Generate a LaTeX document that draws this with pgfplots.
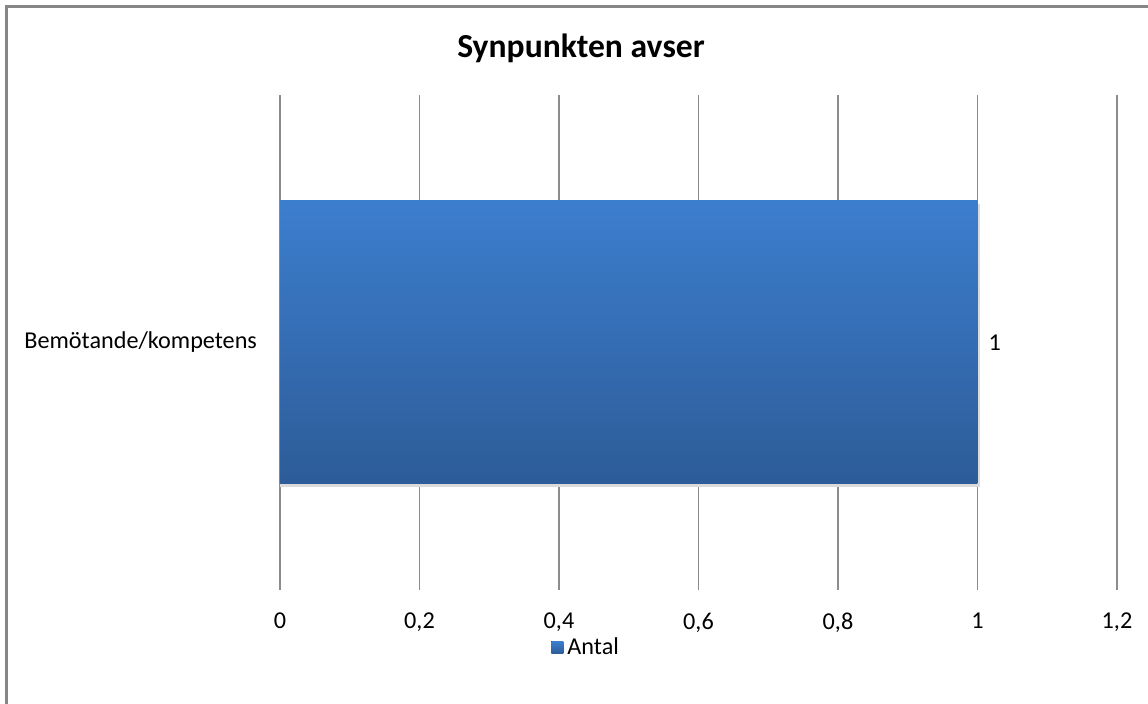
\documentclass[border=0pt]{standalone}
\usepackage{fontspec}
\setmainfont{Carlito}
\usepackage{pgfplots}
\pgfplotsset{compat=1.18}

\definecolor{bartop}{HTML}{3C7ECE}
\definecolor{barbot}{HTML}{2D5C98}
\definecolor{gridgray}{HTML}{8C8C8C}
\definecolor{framegray}{HTML}{868686}

\begin{document}
\begin{tikzpicture}
\useasboundingbox (0,0) rectangle (574pt,352pt);
% outer frame (only left and top visible in the reference)
\draw[framegray, line width=1.2pt] (3.3pt,0) -- (3.3pt,348.7pt) -- (574pt,348.7pt);
\node[font=\fontsize{16.8}{20}\selectfont\bfseries] at (290.5pt,328pt) {Synpunkten avser};
\begin{axis}[
  at={(140pt,57pt)}, anchor=south west,
  scale only axis, width=418.5pt, height=247.5pt,
  xmin=0, xmax=1.2, ymin=-0.5, ymax=0.5,
  xtick={0,0.2,0.4,0.6,0.8,1,1.2},
  ytick={0}, yticklabels={Bemötande/kompetens},
  xmajorgrids, major grid style={gridgray, line width=0.75pt},
  axis line style={draw=none}, major tick length=0pt,
  /pgf/number format/use comma,
  /pgf/number format/assume math mode=true,
  tick label style={font=\fontsize{12.1}{14}\selectfont},
  xticklabel style={yshift=-8pt},
  yticklabel style={xshift=-8pt},
  legend style={at={(0.367,-0.116)}, anchor=center, draw=none,
    font=\fontsize{12.1}{14}\selectfont, inner sep=0pt},
  legend image code/.code={\fill[top color=bartop, bottom color=barbot] (0pt,-3pt) rectangle (6pt,3pt);},
]
% soft shadow under the bar
\addplot[xbar, bar width=141.5pt, bar shift=-1.5pt, draw=none, fill=black!14, forget plot]
  coordinates {(1.003,0)};
\addplot[xbar, bar width=141.5pt, draw=none, top color=bartop, bottom color=barbot,
  nodes near coords,
  every node near coord/.append style={font=\fontsize{12.1}{14}\selectfont, xshift=2pt, black}]
  coordinates {(1,0)};
\legend{Antal}
\end{axis}
\end{tikzpicture}
\end{document}
